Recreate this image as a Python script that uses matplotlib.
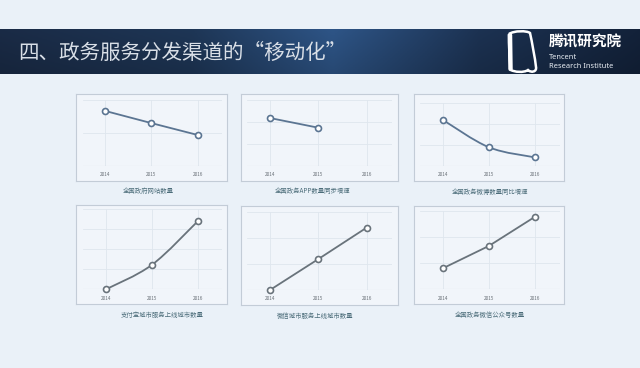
import numpy as np
import matplotlib
matplotlib.use("Agg")
import matplotlib.pyplot as plt
from matplotlib.path import Path
from matplotlib.patches import PathPatch
from matplotlib.colors import LinearSegmentedColormap

plt.rcParams['font.family'] = ['Noto Sans CJK SC', 'DejaVu Sans']

W, H = 640, 368

# data (relative values, no y axis shown)
years = [2014, 2015, 2016]
gov_sites = [1.67, 1.30, 0.94]
gov_app = [2.18, 1.74, np.nan]
gov_weibo = [2.19, 0.89, 0.41]
alipay_cities = [0.0, 1.22, 3.40]
wechat_cities = [0.0, 1.19, 2.40]
gov_wechat_accounts = [0.81, 1.67, 2.79]

captions = ["全国政府网站数量", "全国政务APP数量同步增速", "全国政务微博数量同比增速",
            "支付宝城市服务上线城市数量", "微信城市服务上线城市数量", "全国政务微信公众号数量"]
title = "四、政务服务分发渠道的“移动化”"


def fig_rect(x0, y0, x1, y1):
    return [x0 / W, 1 - y1 / H, (x1 - x0) / W, (y1 - y0) / H]


fig = plt.figure(figsize=(6.4, 3.68), dpi=100)
fig.patch.set_facecolor('#eaf1f8')

# header band with gradient
hax = fig.add_axes(fig_rect(0, 28.5, 640, 74.5))
cmap = LinearSegmentedColormap.from_list('hdr', [(0, '#1a2b46'), (0.3, '#1e3656'),
                                                 (0.52, '#2e5587'), (0.75, '#1c3252'),
                                                 (1, '#13223a')])
grad = np.tile(np.linspace(0, 1, 256), (20, 1))
img = cmap(grad)
img[..., :3] *= np.linspace(1.0, 0.85, 20)[:, None, None]
hax.imshow(img, aspect='auto', extent=[0, 1, 0, 1])
hax.set_axis_off()

fig.text(18 / W, 1 - 52.5 / H, title, color='#d9dfe7', fontsize=14.8,
         va='center', ha='left')

# logo mark
lax = fig.add_axes(fig_rect(500, 28.5, 545, 74.5))
lax.set_xlim(500, 545)
lax.set_ylim(74.5, 28.5)
lax.set_axis_off()
verts = [(509, 34), (514, 30.5), (527, 30.5), (530, 33),
         (532, 42), (535, 58), (536, 67),
         (537, 72), (531, 73), (528, 70),
         (524, 73), (514, 72), (511, 70),
         (509, 58), (509, 45), (509, 34)]
codes = [Path.MOVETO] + [Path.CURVE4] * 15
lax.add_patch(PathPatch(Path(verts, codes), facecolor='none', edgecolor='white', lw=1.8))
lax.plot([510, 510.5], [35, 69], color='white', lw=3.2, solid_capstyle='round')

fig.text(549 / W, 1 - 41 / H, "腾讯研究院", color='white', fontsize=10.5,
         fontweight='bold', va='center', ha='left')
fig.text(549 / W, 1 - 57.5 / H, "Tencent", color='#e8edf3', fontsize=5.4,
         family=['Noto Sans'], va='center', ha='left')
fig.text(549 / W, 1 - 66.8 / H, "Research Institute", color='#e8edf3', fontsize=5.4,
         family=['Noto Sans'], va='center', ha='left')

# panel layout: box, grid x extent, x of 2014/2016, baseline, grid step, n steps
panels = [
    dict(box=(76, 94, 227, 181), gx=(83, 222), xt=(105, 197.7), base=166, step=33, n=2,
         vals=gov_sites, smooth=False, color='#5b7592', cap=(148, 190.5)),
    dict(box=(241, 94, 398, 181), gx=(247, 392), xt=(270, 366.7), base=166, step=22, n=3,
         vals=gov_app, smooth=False, color='#5b7592', cap=(313, 190.5)),
    dict(box=(414, 94, 564, 181), gx=(420, 560), xt=(443, 535), base=166, step=21, n=3,
         vals=gov_weibo, smooth=True, color='#5b7592', cap=(490, 192)),
    dict(box=(76, 205, 227, 304), gx=(83, 222), xt=(106, 197.7), base=289.3, step=20, n=4,
         vals=alipay_cities, smooth=True, color='#69737b', cap=(162, 315)),
    dict(box=(241, 206, 398, 305), gx=(247, 392), xt=(270, 366.7), base=290, step=26, n=3,
         vals=wechat_cities, smooth=False, color='#69737b', cap=(315, 316)),
    dict(box=(414, 206, 564, 304), gx=(420, 560), xt=(443, 535), base=289.3, step=26, n=3,
         vals=gov_wechat_accounts, smooth=False, color='#69737b', cap=(490, 315)),
]


def smooth_path(xs, ys):
    pts = np.column_stack([xs, ys])
    ext = np.vstack([pts[0], pts, pts[-1]])
    verts = [tuple(pts[0])]
    codes = [Path.MOVETO]
    for i in range(len(pts) - 1):
        p0, p1, p2, p3 = ext[i], ext[i + 1], ext[i + 2], ext[i + 3]
        c1 = p1 + (p2 - p0) / 6
        c2 = p2 - (p3 - p1) / 6
        verts += [tuple(c1), tuple(c2), tuple(p2)]
        codes += [Path.CURVE4] * 3
    return Path(verts, codes)


for p, cap in zip(panels, captions):
    x0, y0, x1, y1 = p['box']
    box = fig.add_axes(fig_rect(x0, y0, x1, y1))
    box.set_facecolor('#f1f5fa')
    box.set_xticks([])
    box.set_yticks([])
    for s in box.spines.values():
        s.set_color('#c3ccd7')
        s.set_linewidth(0.8)

    top = p['base'] - p['step'] * p['n']
    gl, gr = p['gx']
    ax = fig.add_axes(fig_rect(gl, top, gr, p['base']))
    ax.set_facecolor('none')
    dpp = 2 / (p['xt'][1] - p['xt'][0])
    ax.set_xlim(2014 - (p['xt'][0] - gl) * dpp, 2016 + (gr - p['xt'][1]) * dpp)
    ax.set_ylim(0, p['n'])
    ax.set_xticks(years)
    ax.set_xticklabels([str(y) for y in years])
    ax.set_yticks(range(p['n'] + 1))
    ax.set_yticklabels([])
    ax.tick_params(length=0, labelsize=3.4, labelcolor='#6a7178', pad=4.5)
    ax.grid(True, color='#dfe6ee', lw=0.6)
    for s in ax.spines.values():
        s.set_visible(False)
    ax.axhline(0, color='#cdd5de', lw=0.8)

    vals = np.array(p['vals'], dtype=float)
    ok = ~np.isnan(vals)
    xs = np.array(years, dtype=float)[ok]
    ys = vals[ok]
    if p['smooth']:
        ax.add_patch(PathPatch(smooth_path(xs, ys), facecolor='none',
                               edgecolor=p['color'], lw=1.3, clip_on=False, zorder=3))
    else:
        ax.plot(xs, ys, color=p['color'], lw=1.3, clip_on=False, zorder=3)
    ax.plot(xs, ys, 'o', ms=4.3, mfc='white', mec=p['color'], mew=1.2,
            clip_on=False, zorder=4)

    fig.text(p['cap'][0] / W, 1 - p['cap'][1] / H, cap, color='#4b6c79',
             fontsize=4.6, ha='center', va='center')

fig.savefig('out.png', dpi=100, facecolor=fig.get_facecolor())
